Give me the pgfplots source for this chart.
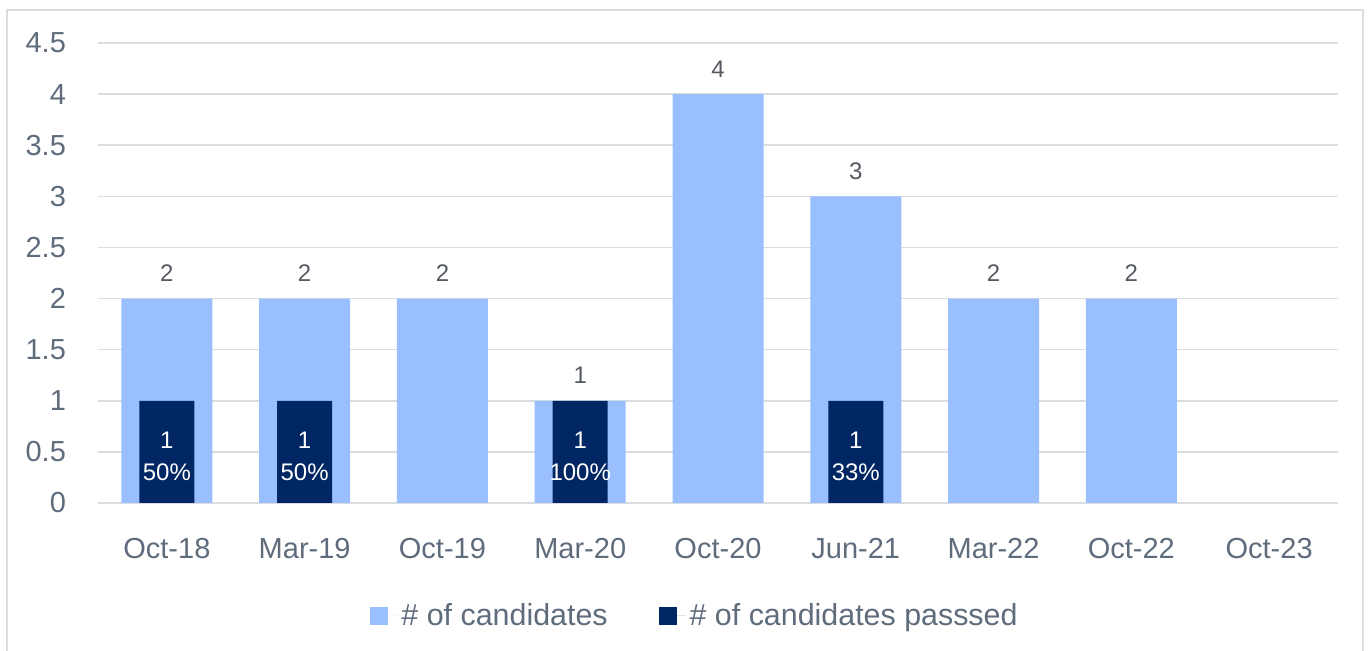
\documentclass[border=0pt]{standalone}
\usepackage{pgfplots}
\pgfplotsset{compat=1.18}
\usepackage{fontspec}
\setmainfont{Liberation Sans}
\definecolor{lightbar}{RGB}{153,191,255}
\definecolor{darkbar}{RGB}{0,38,100}
\definecolor{txt}{RGB}{94,108,124}
\definecolor{lbl}{RGB}{85,90,98}
\definecolor{gridc}{RGB}{217,221,226}
\definecolor{framec}{RGB}{217,220,224}
\protected\def\tl#1#2{#1\\#2}
\begin{document}
\begin{tikzpicture}
\begin{axis}[name=ax, scale only axis, width=620pt, height=230pt,
  xmin=-0.5, xmax=8.5, ymin=0, ymax=4.5,
  ytick={0,0.5,1,1.5,2,2.5,3,3.5,4,4.5},
  xtick={0,1,2,3,4,5,6,7,8},
  xticklabels={Oct-18,Mar-19,Oct-19,Mar-20,Oct-20,Jun-21,Mar-22,Oct-22,Oct-23},
  axis line style={draw=none}, major tick length=0pt, tick style={draw=none},
  ymajorgrids, grid style={gridc, line width=0.75pt},
  tick label style={font=\fontsize{14.5}{17}\selectfont, text=txt},
  /pgf/number format/assume math mode=true,
  yticklabel style={xshift=-12.5pt},
  xticklabel style={yshift=-14pt},
  ybar, bar shift=0pt,
  legend image code/.code={\fill[#1] (0pt,-4.5pt) rectangle (9pt,4.5pt); \path (9pt,0) -- (13.5pt,0);},
  legend style={at={(0.5,-0.239)}, anchor=center, xshift=-11pt, yshift=-1.5pt, draw=none,
    legend columns=2, font=\fontsize{15.2}{18}\selectfont, text=txt,
    /tikz/every even column/.append style={column sep=23.5pt}},
]
\addplot[fill=lightbar, draw=none, bar width=45.5pt, nodes near coords,
  every node near coord/.append style={font=\fontsize{12}{14}\selectfont, text=lbl, yshift=5pt}]
  coordinates {(0,2) (1,2) (2,2) (3,1) (4,4) (5,3) (6,2) (7,2)};
\addlegendentry{\# of candidates}
\addplot[fill=darkbar, draw=none, bar width=27.5pt, point meta=explicit symbolic, nodes near coords,
  every node near coord/.append style={anchor=center, align=center, text=white,
    font=\fontsize{12}{16}\selectfont, yshift=-28pt}]
  coordinates {(0,1) [\tl{1}{50\%}] (1,1) [\tl{1}{50\%}] (3,1) [\tl{1}{100\%}] (5,1) [\tl{1}{33\%}]};
\addlegendentry{\# of candidates passsed}
\end{axis}
\draw[framec, line width=1pt] ([xshift=-45.5pt,yshift=-90pt]ax.south west) rectangle ([xshift=632.5pt,yshift=246.5pt]ax.south west);
\pgfresetboundingbox
\path[use as bounding box] ([xshift=-49pt,yshift=-74pt]ax.south west) rectangle ([xshift=636pt,yshift=251.5pt]ax.south west);
\end{tikzpicture}
\end{document}
